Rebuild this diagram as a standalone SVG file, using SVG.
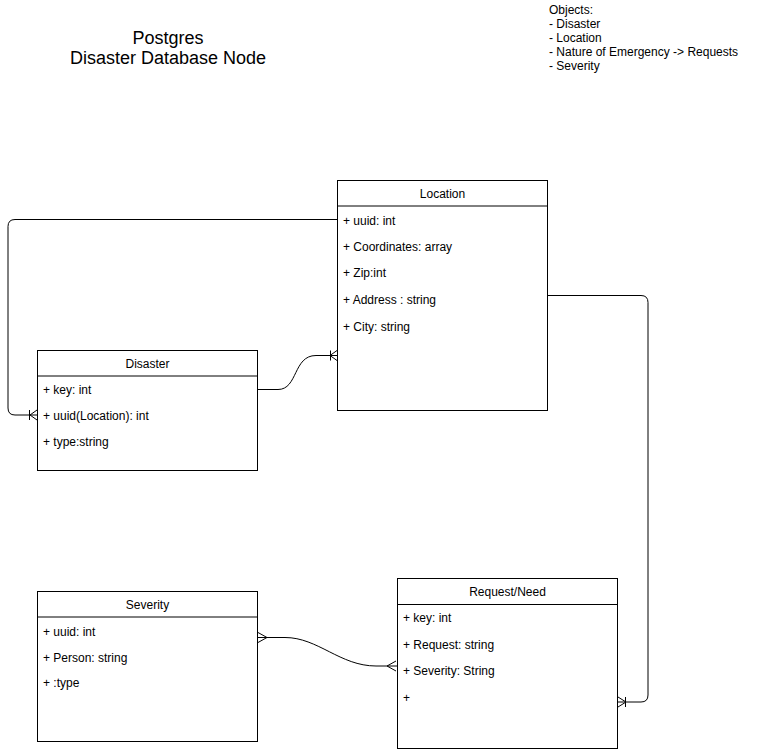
<svg xmlns="http://www.w3.org/2000/svg" width="758" height="752" viewBox="0 0 758 752">
<style>
text{font-family:"Liberation Sans",Arial,Helvetica,sans-serif;fill:#000}
.f{font-size:12px}
.h{font-size:12px;text-anchor:middle}
.t{font-size:18px;text-anchor:middle}
.box{fill:#fff;stroke:#000;stroke-width:1}
.ln{fill:none;stroke:#000;stroke-width:1}
</style>
<rect width="758" height="752" fill="#fff"/>
<g id="title">
<text class="t" x="168" y="43.5">Postgres</text>
<text class="t" x="168" y="63.5">Disaster Database Node</text>
</g>
<g id="objects">
<text class="f" x="549" y="14">Objects:</text>
<text class="f" x="549" y="28">- Disaster</text>
<text class="f" x="549" y="42">- Location</text>
<text class="f" x="549" y="56">- Nature of Emergency -&gt; Requests</text>
<text class="f" x="549" y="70">- Severity</text>
</g>
<g id="connectors">
<path class="ln" d="M337,219.5 H15 Q8,219.5 8,226.5 V408 Q8,415 15,415 H37"/>
<path class="ln" d="M29.5,410 V420 M30,415 L37,410 M30,415 L37,420"/>
<path class="ln" d="M257,389.5 H278 C298,389.5 293,355.5 316,355.5 H337"/>
<path class="ln" d="M330.5,350.5 V360.5 M330,355.5 L337,350.5 M330,355.5 L337,360.5"/>
<path class="ln" d="M547,295.5 H641 Q648,295.5 648,302.5 V695 Q648,702 641,702 H617"/>
<path class="ln" d="M625.5,697 V707 M626,702 L618,697 M626,702 L618,707"/>
<path class="ln" d="M257,637.5 H285 C318,637.5 340,666 376,666 H397"/>
<path class="ln" d="M258,632.5 L267,637.5 L258,642.5"/>
<path class="ln" d="M396,661 L387,666 L396,671"/>
</g>
<g id="location">
<rect class="box" x="337.5" y="180.5" width="210" height="230"/>
<path class="ln" d="M337.5,206 H547.5"/>
<text class="h" x="442.5" y="197.5">Location</text>
<text class="f" x="343" y="225">+ uuid: int</text>
<text class="f" x="343" y="251">+ Coordinates: array</text>
<text class="f" x="343" y="277">+ Zip:int</text>
<text class="f" x="343" y="304">+ Address : string</text>
<text class="f" x="343" y="331">+ City: string</text>
</g>
<g id="disaster">
<rect class="box" x="37.5" y="350.5" width="220" height="120"/>
<path class="ln" d="M37.5,376 H257.5"/>
<text class="h" x="147.5" y="367.5">Disaster</text>
<text class="f" x="43" y="394">+ key: int</text>
<text class="f" x="43" y="420">+ uuid(Location): int</text>
<text class="f" x="43" y="446">+ type:string</text>
</g>
<g id="severity">
<rect class="box" x="37.5" y="591.5" width="220" height="150"/>
<path class="ln" d="M37.5,617 H257.5"/>
<text class="h" x="147.5" y="608.5">Severity</text>
<text class="f" x="43" y="636">+ uuid: int</text>
<text class="f" x="43" y="662">+ Person: string</text>
<text class="f" x="43" y="687">+ :type</text>
</g>
<g id="request">
<rect class="box" x="397.5" y="578.5" width="220" height="170"/>
<path class="ln" d="M397.5,604.5 H617.5"/>
<text class="h" x="507.5" y="596">Request/Need</text>
<text class="f" x="403" y="622">+ key: int</text>
<text class="f" x="403" y="649">+ Request: string</text>
<text class="f" x="403" y="674.5">+ Severity: String</text>
<text class="f" x="403" y="702">+</text>
</g>
</svg>
